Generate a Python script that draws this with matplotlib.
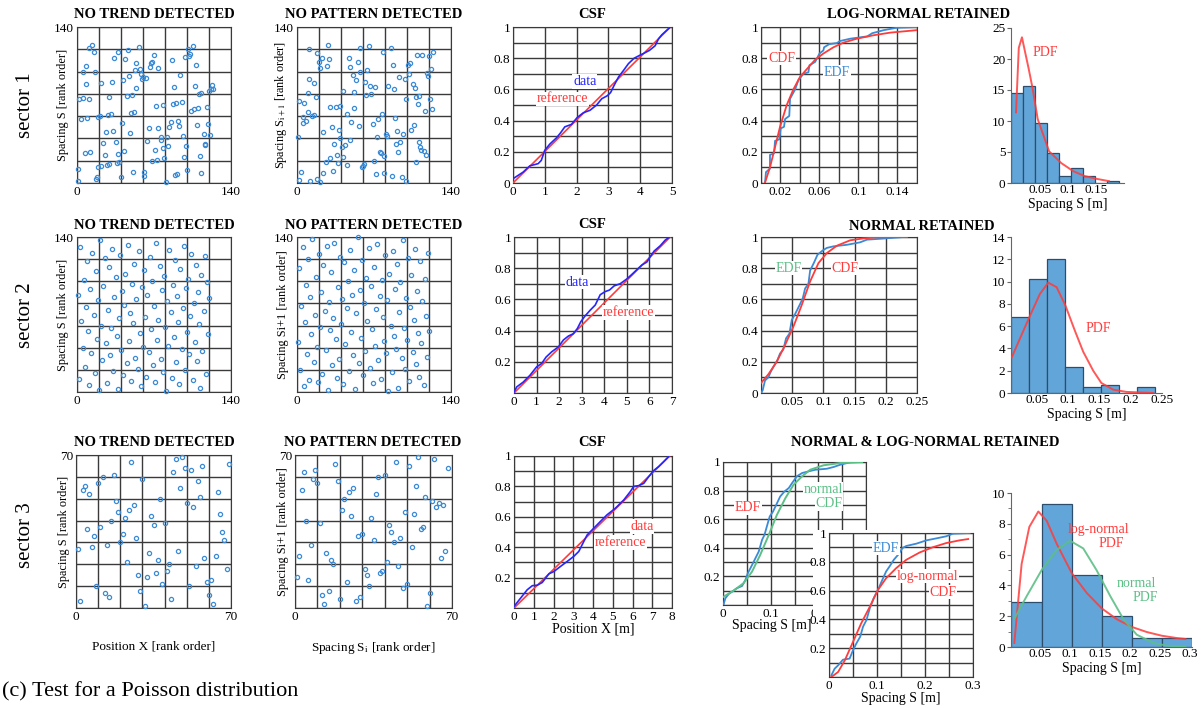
import numpy as np
import matplotlib.pyplot as plt
from matplotlib.patches import Rectangle
from matplotlib.transforms import Bbox, TransformedBbox

plt.rcParams['font.family'] = ['Liberation Serif', 'DejaVu Serif']
plt.rcParams['mathtext.fontset'] = 'stix'

W, H = 1204, 708

BLUE = '#3a8ad6'
RED = '#ff3b3b'
GREEN = '#5cbf86'
GRID = '#3a3a3a'
BAR = '#62a6d9'
BAR_EDGE = '#2c4d6c'

# ---------------- rank scatter data ----------------
s1_trend_x = [1, 1, 2, 5, 11, 4, 9, 5, 8, 8, 11, 14, 15, 16, 7, 12, 17, 18, 19, 21,
              19, 22, 22, 24, 25, 26, 27, 29, 28, 31, 29, 32, 33, 35, 34, 37, 36, 38, 37, 40,
              41, 42, 43, 44, 45, 46, 47, 48, 49, 50, 51, 52, 54, 53, 54, 56, 57, 58, 59, 60,
              63, 61, 61, 64, 65, 66, 67, 68, 70, 68, 71, 72, 73, 74, 74, 76, 76, 78, 78, 79,
              81, 82, 83, 84, 85, 86, 87, 88, 89, 90, 91, 92, 93, 94, 95, 96, 97, 98, 99, 100,
              101, 102, 103, 105, 104, 106, 107, 108, 109, 110, 111, 112, 113, 113, 115, 116, 116, 118, 119, 120,
              121, 122, 123, 124]
s1_trend_y = [2, 13, 75, 76, 75, 57, 58, 100, 105, 89, 121, 124, 118, 100, 27, 28, 4, 5, 59, 60,
              14, 15, 90, 36, 25, 46, 16, 17, 61, 62, 77, 91, 47, 37, 112, 118, 18, 19, 26, 5,
              54, 92, 29, 111, 78, 119, 96, 45, 63, 79, 10, 64, 108, 101, 85, 122, 102, 98, 93, 95,
              94, 10, 6, 38, 49, 104, 108, 109, 115, 20, 30, 69, 21, 103, 49, 39, 41, 70, 31, 22,
              1, 41, 33, 50, 55, 110, 71, 86, 7, 72, 8, 56, 51, 97, 73, 42, 23, 113, 33, 12,
              120, 114, 116, 123, 65, 66, 87, 106, 52, 67, 80, 24, 9, 81, 44, 34, 35, 68, 53, 83,
              43, 84, 88, 84]

s1_pattern_x = [2, 4, 2, 6, 10, 11, 15, 17, 11, 18, 20, 21, 23, 27, 29, 28, 10, 5, 5, 8,
                14, 15, 24, 30, 35, 39, 32, 38, 34, 39, 1, 12, 18, 21, 24, 26, 30, 33, 36, 37,
                41, 42, 44, 45, 48, 49, 45, 52, 56, 42, 47, 48, 51, 54, 57, 55, 52, 57, 59, 60,
                61, 62, 64, 65, 66, 67, 71, 63, 69, 70, 72, 73, 75, 76, 77, 74, 78, 79, 81, 82,
                79, 83, 85, 86, 87, 88, 89, 91, 90, 92, 93, 94, 95, 96, 98, 99, 99, 101, 102, 103,
                104, 105, 106, 107, 108, 108, 109, 110, 111, 111, 112, 113, 114, 115, 116, 117, 118, 119, 120, 121,
                122, 123, 124]
s1_pattern_y = [3, 10, 74, 72, 81, 93, 90, 77, 120, 117, 109, 103, 112, 105, 111, 124, 64, 59, 54, 56,
                60, 61, 46, 68, 68, 69, 50, 48, 35, 40, 41, 2, 4, 1, 9, 19, 22, 11, 25, 18,
                32, 23, 34, 16, 39, 55, 62, 67, 51, 83, 112, 104, 97, 92, 100, 109, 82, 121, 14, 15,
                17, 91, 101, 123, 87, 80, 86, 79, 53, 20, 8, 41, 28, 27, 62, 57, 118, 24, 44, 42,
                9, 87, 121, 6, 106, 84, 58, 47, 35, 28, 95, 37, 5, 44, 93, 2, 75, 106, 98, 108,
                48, 89, 52, 85, 19, 77, 115, 71, 78, 37, 32, 30, 115, 29, 65, 25, 99, 96, 114, 75,
                102, 66, 118]

# sector 2 (rough estimate from the overview)
s2_trend_x = [1, 2, 3, 4, 5, 6, 7, 8, 9, 10, 11, 12, 13, 14, 15, 16, 17, 18, 19, 20,
              21, 22, 23, 24, 25, 26, 27, 28, 29, 30, 31, 32, 33, 34, 35, 36, 37, 38, 39, 40,
              41, 42, 43, 44, 45, 46, 47, 48, 49, 50, 51, 52, 53, 54, 55, 56, 57, 58, 59, 60,
              61, 62, 63, 64, 65, 66, 67, 68, 69, 70, 71, 72, 73, 74, 75, 76, 77, 78, 79, 80,
              81, 82, 83, 84, 85, 86, 87, 88, 89, 90, 91, 92, 93, 94, 95, 96, 97, 98, 99, 100,
              101, 102, 103, 104, 105, 106, 107, 108, 109, 110, 111, 112, 113, 114, 115, 116, 117, 118, 119, 120]
s2_trend_y = [88, 12, 131, 64, 40, 101, 23, 77, 118, 55, 6, 93, 35, 126, 70, 17, 109, 48, 83, 2,
              137, 60, 29, 96, 121, 44, 8, 74, 113, 33, 58, 129, 19, 86, 104, 51, 3, 67, 124, 38,
              91, 15, 79, 107, 26, 133, 46, 71, 10, 98, 62, 116, 31, 84, 21, 127, 53, 5, 95, 41,
              110, 68, 14, 88, 36, 122, 57, 100, 24, 78, 9, 135, 47, 65, 114, 30, 92, 18, 105, 59,
              1, 82, 42, 128, 72, 13, 97, 50, 119, 27, 87, 63, 7, 111, 39, 76, 132, 20, 94, 54,
              102, 34, 69, 125, 11, 80, 45, 115, 28, 90, 61, 4, 106, 37, 73, 123, 16, 99, 52, 85]
s2_pattern_x = s2_trend_x
s2_pattern_y = [45, 112, 20, 78, 131, 5, 63, 97, 34, 120, 11, 86, 52, 138, 27, 70, 104, 41, 9, 125,
                59, 90, 16, 115, 73, 38, 132, 2, 81, 56, 108, 24, 67, 135, 48, 13, 95, 30, 122, 61,
                84, 7, 117, 43, 76, 100, 19, 128, 54, 88, 33, 110, 3, 71, 140, 26, 92, 49, 119, 15,
                80, 37, 103, 64, 130, 22, 96, 57, 8, 113, 42, 75, 134, 29, 87, 12, 101, 68, 46, 124,
                35, 83, 1, 107, 60, 18, 127, 51, 93, 39, 116, 4, 72, 99, 31, 137, 58, 21, 85, 47,
                121, 10, 77, 106, 36, 65, 129, 25, 91, 53, 14, 118, 44, 82, 6, 102, 69, 32, 126, 55]

s3_trend_x = [1, 2, 3, 4, 5, 6, 7, 8, 9, 10, 11, 12, 13, 14, 15, 16, 17, 18, 19, 20,
              21, 22, 23, 24, 25, 26, 27, 28, 29, 30, 31, 32, 33, 34, 35, 36, 37, 38, 39, 40,
              41, 42, 43, 44, 45, 46, 47, 48, 49, 50, 51, 52, 53, 54, 55, 56, 57, 58, 59, 60,
              61, 62, 63, 64, 65, 66, 67, 68, 69]
s3_trend_y = [27, 3, 54, 56, 36, 52, 28, 33, 10, 57, 37, 60, 7, 29, 5, 40, 61, 49, 44, 30,
              34, 41, 21, 45, 67, 47, 32, 15, 8, 59, 1, 14, 25, 42, 38, 16, 22, 50, 11, 39,
              17, 20, 4, 62, 68, 26, 55, 69, 64, 48, 10, 63, 46, 19, 58, 51, 65, 23, 12, 6,
              13, 2, 24, 53, 43, 35, 31, 18, 66]
s3_pattern_x = [1, 2, 3, 4, 5, 6, 7, 8, 9, 10, 11, 12, 13, 14, 15, 16, 17, 18, 19, 20,
                21, 22, 23, 24, 25, 26, 27, 28, 29, 30, 31, 32, 33, 34, 35, 36, 37, 38, 39, 40,
                41, 42, 43, 44, 45, 46, 47, 48, 49, 50, 51, 52, 53, 54, 55, 56, 57, 58, 59, 60,
                61, 62, 63, 64, 65, 66, 67, 68]
s3_pattern_y = [14, 24, 54, 62, 40, 13, 29, 59, 63, 57, 39, 6, 2, 25, 8, 22, 20, 66, 58, 4,
                45, 50, 12, 53, 42, 55, 3, 33, 5, 34, 18, 15, 10, 41, 31, 52, 60, 16, 17, 61,
                21, 38, 35, 30, 67, 19, 32, 9, 44, 11, 65, 28, 43, 56, 69, 36, 37, 51, 1, 7,
                49, 68, 46, 48, 23, 47, 26, 64]

# ---------------- cumulative spacing frequency (CSF) ----------------
csf1_x = [0, 0.02, 0.32, 0.53, 0.79, 0.89, 1.0, 1.16, 1.37, 1.49, 1.63, 1.84, 2.02, 2.21, 2.42,
          2.63, 2.79, 2.97, 3.07, 3.18, 3.32, 3.47, 3.63, 3.81, 4.0, 4.13, 4.29, 4.47, 4.58,
          4.68, 4.84, 4.95]
csf1_y = [0.02, 0.03, 0.07, 0.11, 0.124, 0.145, 0.21, 0.25, 0.29, 0.32, 0.36, 0.376, 0.42, 0.45,
          0.466, 0.50, 0.54, 0.56, 0.58, 0.626, 0.68, 0.72, 0.765, 0.80, 0.82, 0.833, 0.85, 0.88,
          0.925, 0.95, 0.98, 1.0]
csf1_ref_x = [0, 4.95]

csf2_x = [0, 0.12, 0.41, 0.71, 1.0, 1.23, 1.42, 1.67, 1.97, 2.19, 2.41, 2.63, 2.81, 2.96, 3.15,
          3.37, 3.6, 3.82, 4.04, 4.23, 4.44, 4.7, 4.99, 5.22, 5.44, 5.66, 5.89, 6.04, 6.21, 6.48,
          6.7, 6.89]
csf2_y = [0.006, 0.039, 0.07, 0.114, 0.167, 0.19, 0.23, 0.264, 0.296, 0.34, 0.365, 0.38, 0.414,
          0.457, 0.494, 0.53, 0.564, 0.63, 0.65, 0.66, 0.687, 0.70, 0.73, 0.76, 0.79, 0.82, 0.84,
          0.875, 0.91, 0.944, 0.98, 1.0]
csf2_ref_x = [0, 6.92]

csf3_x = [0, 0.34, 0.67, 0.93, 1.18, 1.43, 1.77, 2.02, 2.36, 2.69, 3.03, 3.28, 3.45, 3.7, 4.04,
          4.38, 4.71, 5.13, 5.56, 5.89, 6.06, 6.31, 6.57, 6.82, 7.07, 7.32, 7.58, 7.83]
csf3_y = [0.01, 0.066, 0.12, 0.147, 0.15, 0.168, 0.225, 0.24, 0.274, 0.306, 0.34, 0.372, 0.416,
          0.48, 0.525, 0.57, 0.613, 0.656, 0.711, 0.766, 0.80, 0.805, 0.82, 0.864, 0.904, 0.93,
          0.963, 0.996]
csf3_ref_x = [0, 7.88]
csf_ref_y = [0, 1]

# ---------------- EDF / fitted CDF ----------------
edf1_x = [0.0041, 0.0051, 0.0051, 0.0092, 0.0092, 0.0134, 0.0144, 0.0188, 0.0202, 0.0236, 0.0247,
          0.029, 0.0298, 0.035, 0.0384, 0.0435, 0.0486, 0.0497, 0.0555, 0.06, 0.064, 0.0647,
          0.07, 0.0778, 0.081, 0.0915, 0.109, 0.114, 0.126, 0.139, 0.16]
edf1_y = [0.0, 0.07, 0.07, 0.092, 0.18, 0.19, 0.27, 0.28, 0.35, 0.36, 0.41, 0.43, 0.54, 0.60,
          0.66, 0.70, 0.71, 0.755, 0.776, 0.83, 0.85, 0.87, 0.89, 0.897, 0.91, 0.925, 0.94, 0.96,
          0.98, 0.995, 1.0]
cdf1_x = [0.004, 0.0092, 0.0144, 0.0195, 0.0264, 0.0332, 0.04, 0.047, 0.0555, 0.064, 0.0743,
          0.0846, 0.0983, 0.1155, 0.1326, 0.16]
cdf1_y = [0.0, 0.10, 0.23, 0.36, 0.50, 0.60, 0.68, 0.73, 0.79, 0.83, 0.87, 0.90, 0.925, 0.947,
          0.964, 0.98]

edf2_x = [0.0, 0.0027, 0.0064, 0.0118, 0.0155, 0.0198, 0.0262, 0.0305, 0.0359, 0.0401, 0.0455,
          0.0493, 0.0546, 0.0584, 0.0626, 0.0669, 0.0707, 0.076, 0.0787, 0.0851, 0.0905, 0.099,
          0.1055, 0.116, 0.1376, 0.159, 0.1697, 0.196, 0.2286]
edf2_y = [0.0, 0.017, 0.08, 0.10, 0.135, 0.167, 0.21, 0.253, 0.28, 0.35, 0.38, 0.468, 0.506,
          0.536, 0.57, 0.607, 0.67, 0.70, 0.785, 0.837, 0.886, 0.914, 0.93, 0.94, 0.95, 0.966,
          0.983, 0.99, 1.0]
cdf2_x = [0.0, 0.0118, 0.0252, 0.0385, 0.0519, 0.0653, 0.0787, 0.0921, 0.1055, 0.1215, 0.143,
          0.1643, 0.1858, 0.234]
cdf2_y = [0.064, 0.12, 0.20, 0.307, 0.425, 0.564, 0.715, 0.833, 0.897, 0.944, 0.979, 0.991,
          0.998, 1.0]

edf3_x = [0.0014, 0.005, 0.012, 0.022, 0.029, 0.04, 0.047, 0.052, 0.061, 0.068, 0.075, 0.082,
          0.087, 0.092, 0.098, 0.105, 0.11, 0.115, 0.12, 0.129, 0.138, 0.145, 0.155, 0.166, 0.18,
          0.194, 0.218, 0.232, 0.246, 0.267, 0.288]
edf3_y = [0.007, 0.047, 0.077, 0.10, 0.117, 0.133, 0.175, 0.222, 0.28, 0.327, 0.374, 0.456,
          0.49, 0.549, 0.619, 0.654, 0.689, 0.724, 0.759, 0.794, 0.818, 0.853, 0.90, 0.923,
          0.935, 0.946, 0.953, 0.965, 0.981, 0.998, 1.0]
cdf3_norm_x = [0.0014, 0.022, 0.043, 0.061, 0.078, 0.096, 0.113, 0.131, 0.148, 0.166, 0.183,
               0.211, 0.246, 0.292]
cdf3_norm_y = [0.058, 0.10, 0.152, 0.234, 0.35, 0.49, 0.63, 0.748, 0.841, 0.90, 0.946, 0.977,
               0.993, 1.0]

edf3b_x = [0.005, 0.0118, 0.019, 0.029, 0.043, 0.05, 0.057, 0.065, 0.071, 0.078, 0.085, 0.093,
           0.102, 0.111, 0.119, 0.126, 0.135, 0.144, 0.153, 0.161, 0.182, 0.203, 0.227, 0.244,
           0.258, 0.293]
edf3b_y = [0.012, 0.058, 0.081, 0.12, 0.128, 0.186, 0.233, 0.28, 0.35, 0.395, 0.477, 0.547,
           0.605, 0.674, 0.733, 0.767, 0.814, 0.849, 0.895, 0.91, 0.926, 0.949, 0.965, 0.977,
           0.995, 1.0]
cdf3_logn_x = [0.005, 0.019, 0.033, 0.05, 0.067, 0.085, 0.102, 0.119, 0.14, 0.161, 0.189, 0.217,
               0.244, 0.272, 0.29]
cdf3_logn_y = [0.0, 0.035, 0.116, 0.244, 0.372, 0.488, 0.605, 0.686, 0.756, 0.814, 0.865, 0.902,
               0.93, 0.949, 0.958]

# ---------------- histograms and fitted PDFs ----------------
hist1_edges = [-0.003, 0.0186, 0.0402, 0.0618, 0.0834, 0.105, 0.1266, 0.1482, 0.1698, 0.1914]
hist1_heights = [14.5, 15.7, 9.7, 4.8, 1.2, 2.4, 1.2, 0.0, 0.4]
pdf1_x = [0.006, 0.011, 0.0167, 0.0226, 0.0286, 0.0357, 0.045, 0.0655, 0.0875, 0.109, 0.13,
          0.152, 0.173]
pdf1_y = [11.4, 21.8, 23.5, 21.0, 18.5, 15.3, 10.3, 5.1, 3.2, 1.9, 1.1, 0.65, 0.3]

hist2_edges = [0.0085, 0.0378, 0.0665, 0.0952, 0.124, 0.153, 0.181, 0.210, 0.239]
hist2_heights = [6.8, 10.2, 12.0, 2.3, 0.5, 0.75, 0.0, 0.5]
pdf2_x = [0.0096, 0.0378, 0.0548, 0.0681, 0.0814, 0.0952, 0.1106, 0.124, 0.140, 0.153, 0.172,
          0.193, 0.236]
pdf2_y = [3.2, 6.8, 8.9, 9.9, 9.5, 7.9, 5.6, 3.7, 2.0, 0.9, 0.3, 0.1, 0.0]

hist3_edges = [0.002, 0.053, 0.103, 0.153, 0.203, 0.253, 0.303]
hist3_heights = [2.9, 9.3, 4.65, 2.0, 0.56, 0.56]
pdf3_logn_x = [0.0072, 0.0194, 0.0322, 0.0472, 0.0611, 0.0778, 0.1028, 0.128, 0.153, 0.178,
               0.203, 0.228, 0.253, 0.278, 0.292]
pdf3_logn_y = [0.26, 5.4, 7.8, 8.8, 8.2, 6.7, 4.8, 3.5, 2.5, 1.8, 1.3, 0.97, 0.73, 0.58, 0.52]
pdf3_norm_x = [0.0072, 0.0278, 0.0528, 0.0778, 0.1, 0.122, 0.144, 0.167, 0.189, 0.211, 0.239,
               0.261, 0.292]
pdf3_norm_y = [1.83, 3.3, 5.0, 6.3, 6.9, 6.4, 5.0, 3.3, 1.8, 0.8, 0.26, 0.09, 0.02]


def box(fig, l, t, r, b):
    """Axes from pixel edges (left, top, right, bottom)."""
    return fig.add_axes([l / W, 1 - b / H, (r - l) / W, (b - t) / H])


def ftext(fig, x, y, s, **kw):
    fig.text(x / W, 1 - y / H, s, **kw)


def rank_scatter(ax, x, y, n, ylabel, lab_x=-0.05):
    ax.plot(x, y, 'o', mfc='none', mec=BLUE, ms=3.0, mew=0.9, clip_on=False, zorder=3)
    ax.set_xlim(0, n)
    ax.set_ylim(0, n)
    ax.set_xticks(np.linspace(0, n, 8), minor=True)
    ax.set_yticks(np.linspace(0, n, 8), minor=True)
    ax.set_xticks([0, n])
    ax.set_yticks([n])
    ax.grid(which='both', color=GRID, lw=1.0)
    ax.tick_params(which='both', length=0, labelsize=9.5, pad=2)
    for s in ax.spines.values():
        s.set_color(GRID)
    ax.set_ylabel(ylabel, fontsize=8.8)
    ax.yaxis.set_label_coords(lab_x, 0.5)


def grid_axes(ax, xmax, xstep, xticks, xlabels, yticks, ylabels, xmin=0):
    ax.set_xlim(xmin, xmax)
    ax.set_ylim(0, 1)
    ax.set_xticks(np.arange(xmin, xmax + 1e-9, xstep), minor=True)
    ax.set_yticks(np.arange(0, 1.01, 0.1), minor=True)
    ax.set_xticks(xticks)
    ax.set_xticklabels(xlabels)
    ax.set_yticks(yticks)
    ax.set_yticklabels(ylabels)
    ax.grid(which='both', color=GRID, lw=1.0)
    ax.tick_params(which='both', length=0, labelsize=9.5, pad=2)
    for s in ax.spines.values():
        s.set_color(GRID)


def hist_axes(ax, edges, heights, xmin, xmax, ymax, ystep, xticks, xlabels, yminor=None):
    ax.bar(edges[:-1], heights, width=np.diff(edges), align='edge', color=BAR,
           edgecolor=BAR_EDGE, lw=0.9, zorder=2)
    ax.set_xlim(xmin, xmax)
    ax.set_ylim(0, ymax)
    ax.set_yticks(np.arange(0, ymax + 0.1, ystep))
    if yminor:
        ax.set_yticks(np.arange(0, ymax + 0.1, yminor), minor=True)
    ax.set_xticks(xticks)
    ax.set_xticklabels(xlabels)
    for s in ['top', 'right']:
        ax.spines[s].set_visible(False)
    for s in ['left', 'bottom']:
        ax.spines[s].set_color('#666666')
    ax.tick_params(which='both', labelsize=9.5, pad=1, color='#666666')
    ax.tick_params(which='major', length=3)
    ax.tick_params(which='minor', length=2)
    ax.tick_params(axis='x', length=0)
    ax.set_xlabel('Spacing S [m]', fontsize=10, labelpad=1)


def label(ax, x, y, s, color, **kw):
    ax.text(x, y, s, color=color, fontsize=10, ha='center', va='center', zorder=5,
            bbox=dict(facecolor='white', edgecolor='none', pad=0.5), **kw)


fig = plt.figure(figsize=(W / 100, H / 100), dpi=100)

tkw = dict(fontsize=10.5, fontweight='bold', ha='center', va='center')
y_lab = 'Spacing S [rank order]'

# ================= sector 1 =================
ftext(fig, 25, 105, 'sector 1', fontsize=15, rotation=90, ha='center', va='center')
ax = box(fig, 77, 27, 231, 183)
rank_scatter(ax, s1_trend_x, s1_trend_y, 140, y_lab)
ftext(fig, 154, 14, 'NO TREND DETECTED', **tkw)
ax = box(fig, 297, 27, 451, 183)
rank_scatter(ax, s1_pattern_x, s1_pattern_y, 140, r'Spacing S$_{\mathrm{i+1}}$ [rank order]')
ftext(fig, 374, 14, 'NO PATTERN DETECTED', **tkw)

ax = box(fig, 513, 27, 672, 183)
grid_axes(ax, 5, 1, range(6), [str(i) for i in range(6)], [0, 0.2, 0.4, 0.6, 0.8, 1],
          ['0', '0.2', '0.4', '0.6', '0.8', '1'])
ax.plot(csf1_ref_x, csf_ref_y, color=RED, lw=1.2, zorder=3)
ax.plot(csf1_x, csf1_y, color='#2525ff', lw=1.2, zorder=3)
label(ax, 2.26, 0.65, 'data', '#2525ff')
label(ax, 1.56, 0.54, 'reference', RED)
ftext(fig, 592, 14, 'CSF', **tkw)

ax = box(fig, 761, 27, 917, 183)
grid_axes(ax, 0.16, 0.02, [0.02, 0.06, 0.1, 0.14], ['0.02', '0.06', '0.1', '0.14'],
          [0, 0.2, 0.4, 0.6, 0.8, 1], ['0', '0.2', '0.4', '0.6', '0.8', '1'])
ax.plot(edf1_x, edf1_y, color=BLUE, lw=1.3, zorder=3)
ax.plot(cdf1_x, cdf1_y, color=RED, lw=1.3, zorder=3)
label(ax, 0.0212, 0.80, 'CDF', RED)
label(ax, 0.078, 0.71, 'EDF', BLUE)
ftext(fig, 919, 14, 'LOG-NORMAL RETAINED', **tkw)

ax = box(fig, 1011, 28, 1124, 183)
hist_axes(ax, hist1_edges, hist1_heights, -0.003, 0.2, 25, 5, [0.05, 0.1, 0.15],
          ['0.05', '0.1', '0.15'])
ax.plot(pdf1_x, pdf1_y, color=RED, lw=1.4, alpha=0.85, zorder=3)
ax.text(0.058, 21, 'PDF', color=RED, fontsize=10, ha='center', va='center')

# ================= sector 2 =================
ftext(fig, 25, 315, 'sector 2', fontsize=15, rotation=90, ha='center', va='center')
ax = box(fig, 77, 237, 231, 392)
rank_scatter(ax, s2_trend_x, s2_trend_y, 140, y_lab)
ftext(fig, 154, 225, 'NO TREND DETECTED', **tkw)
ax = box(fig, 297, 237, 451, 392)
rank_scatter(ax, s2_pattern_x, s2_pattern_y, 140, 'Spacing Si+1 [rank order]')
ftext(fig, 374, 225, 'NO PATTERN DETECTED', **tkw)

ax = box(fig, 514, 237, 672, 393)
grid_axes(ax, 7, 1, range(8), [str(i) for i in range(8)], [0.2, 0.4, 0.6, 0.8, 1],
          ['0.2', '0.4', '0.6', '0.8', '1'])
ax.plot(csf2_ref_x, csf_ref_y, color=RED, lw=1.2, zorder=3)
ax.plot(csf2_x, csf2_y, color='#2525ff', lw=1.2, zorder=3)
label(ax, 2.81, 0.71, 'data', '#2525ff')
label(ax, 5.07, 0.515, 'reference', RED)
ftext(fig, 592, 224, 'CSF', **tkw)

ax = box(fig, 761, 237, 917, 393)
grid_axes(ax, 0.25, 0.05, [0.05, 0.1, 0.15, 0.2, 0.25], ['0.05', '0.1', '0.15', '0.2', '0.25'],
          [0, 0.2, 0.4, 0.6, 0.8, 1], ['0', '0.2', '0.4', '0.6', '0.8', '1'])
ax.plot(edf2_x, edf2_y, color=BLUE, lw=1.3, zorder=3)
ax.plot(cdf2_x, cdf2_y, color=RED, lw=1.3, zorder=3)
label(ax, 0.044, 0.80, 'EDF', GREEN)
label(ax, 0.135, 0.80, 'CDF', RED)
ftext(fig, 922, 226, 'NORMAL RETAINED', **tkw)

ax = box(fig, 1011, 237, 1162, 393)
hist_axes(ax, hist2_edges, hist2_heights, 0.0085, 0.25, 14, 2, [0.05, 0.1, 0.15, 0.2, 0.25],
          ['0.05', '0.1', '0.15', '0.2', '0.25'])
ax.plot(pdf2_x, pdf2_y, color=RED, lw=1.4, alpha=0.85, zorder=3)
ax.text(0.148, 5.8, 'PDF', color=RED, fontsize=10, ha='center', va='center')

# ================= sector 3 =================
ftext(fig, 25, 535, 'sector 3', fontsize=15, rotation=90, ha='center', va='center')
ax = box(fig, 76, 455, 231, 608)
rank_scatter(ax, s3_trend_x, s3_trend_y, 70, y_lab, lab_x=-0.04)
ax.set_xlabel('Position X [rank order]', fontsize=9.5)
ax.xaxis.set_label_coords(0.5, -0.21)
ftext(fig, 154, 443, 'NO TREND DETECTED', **tkw)
ax = box(fig, 295, 455, 452, 608)
rank_scatter(ax, s3_pattern_x, s3_pattern_y, 70, 'Spacing Si+1 [rank order]', lab_x=-0.04)
ax.set_xlabel(r'Spacing S$_{\mathrm{i}}$ [rank order]', fontsize=9.5)
ax.xaxis.set_label_coords(0.5, -0.21)
ftext(fig, 373, 443, 'NO PATTERN DETECTED', **tkw)

ax = box(fig, 514, 456, 672, 608)
grid_axes(ax, 8, 1, range(9), [str(i) for i in range(9)], [0.2, 0.4, 0.6, 0.8, 1],
          ['0.2', '0.4', '0.6', '0.8', '1'])
ax.plot(csf3_ref_x, csf_ref_y, color=RED, lw=1.2, zorder=3)
ax.plot(csf3_x, csf3_y, color='#2525ff', lw=1.2, zorder=3)
label(ax, 6.48, 0.536, 'data', RED)
label(ax, 5.39, 0.43, 'reference', RED)
ax.set_xlabel('Position X [m]', fontsize=10, labelpad=0)
ftext(fig, 592, 443, 'CSF', **tkw)

ftext(fig, 925, 443, 'NORMAL & LOG-NORMAL RETAINED', **tkw)

ax = box(fig, 723, 462, 866, 605)
grid_axes(ax, 0.3, 0.05, [0, 0.1, 0.2], ['0', '0.1', '0.2'],
          [0.2, 0.4, 0.6, 0.8, 1], ['0.2', '0.4', '0.6', '0.8', '1'])
ax.plot(edf3_x, edf3_y, color=BLUE, lw=1.3, zorder=3)
ax.plot(cdf3_norm_x, cdf3_norm_y, color=GREEN, lw=1.4, zorder=3)
label(ax, 0.21, 0.81, 'normal', GREEN)
label(ax, 0.222, 0.71, 'CDF', GREEN)
label(ax, 0.052, 0.68, 'EDF', RED)
ax.set_xlabel('Spacing S [m]', fontsize=10, labelpad=0)
ax.xaxis.set_label_coords(0.34, -0.1)
# the last tick label is partly hidden behind the inset, as in the source figure
clip = TransformedBbox(Bbox([[0, 0], [813 / W, 1]]), fig.transFigure)
for t in ax.get_xticklabels():
    t.set_clip_box(clip)
    t.set_clip_on(True)

fig.add_artist(Rectangle((813 / W, 1 - 706 / H), (985 - 813) / W, (706 - 530) / H,
                         transform=fig.transFigure, facecolor='white', edgecolor='none',
                         zorder=1))
ax = box(fig, 829, 533, 973, 677)
ax.set_zorder(2)
grid_axes(ax, 0.3, 0.05, [0, 0.1, 0.2, 0.3], ['0', '0.1', '0.2', '0.3'],
          [0.2, 0.4, 0.6, 0.8, 1], ['0.2', '0.4', '0.6', '0.8', '1'])
ax.plot(edf3b_x, edf3b_y, color=BLUE, lw=1.3, zorder=3)
ax.plot(cdf3_logn_x, cdf3_logn_y, color=RED, lw=1.3, zorder=3)
label(ax, 0.119, 0.895, 'EDF', BLUE)
label(ax, 0.205, 0.70, 'log-normal', RED)
label(ax, 0.2375, 0.59, 'CDF', RED)
ax.set_xlabel('Spacing S [m]', fontsize=10, labelpad=0)

ax = box(fig, 1011, 493, 1192, 647)
hist_axes(ax, hist3_edges, hist3_heights, 0.0017, 0.303, 10, 2,
          [0.05, 0.1, 0.15, 0.2, 0.25, 0.3], ['0.05', '0.1', '0.15', '0.2', '0.25', '0.3'],
          yminor=1)
ax.plot(pdf3_logn_x, pdf3_logn_y, color=RED, lw=1.4, alpha=0.85, zorder=3)
ax.plot(pdf3_norm_x, pdf3_norm_y, color=GREEN, lw=1.4, alpha=0.9, zorder=3)
ax.text(0.148, 7.65, 'log-normal', color=RED, fontsize=10, ha='center', va='center')
ax.text(0.169, 6.7, 'PDF', color=RED, fontsize=10, ha='center', va='center')
ax.text(0.211, 4.1, 'normal', color=GREEN, fontsize=10, ha='center', va='center')
ax.text(0.225, 3.2, 'PDF', color=GREEN, fontsize=10, ha='center', va='center')

ftext(fig, 2, 692, '(c) Test for a Poisson distribution', fontsize=16, ha='left', va='center')

fig.savefig('out.png', dpi=100)
